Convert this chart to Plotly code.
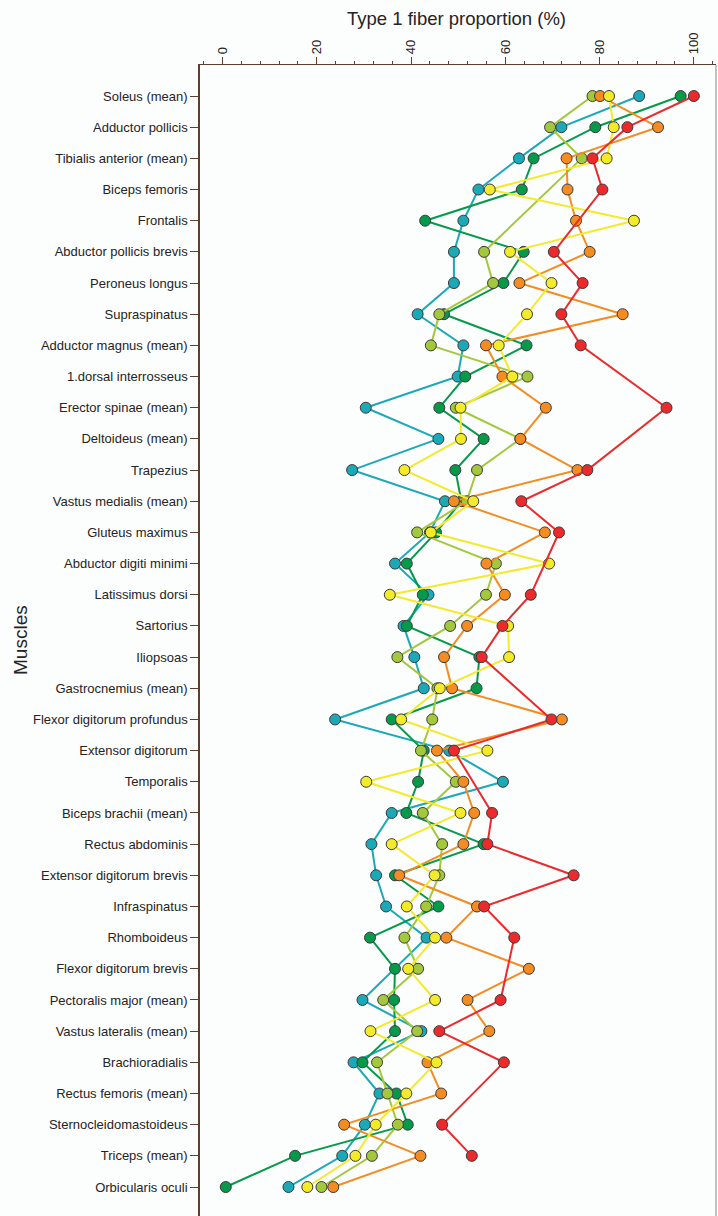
import plotly.graph_objects as go

# Muscles, top to bottom
muscles = [
    "Soleus (mean)", "Adductor pollicis", "Tibialis anterior (mean)", "Biceps femoris",
    "Frontalis", "Abductor pollicis brevis", "Peroneus longus", "Supraspinatus",
    "Adductor magnus (mean)", "1.dorsal interrosseus", "Erector spinae (mean)",
    "Deltoideus (mean)", "Trapezius", "Vastus medialis (mean)", "Gluteus maximus",
    "Abductor digiti minimi", "Latissimus dorsi", "Sartorius", "Iliopsoas",
    "Gastrocnemius (mean)", "Flexor digitorum profundus", "Extensor digitorum",
    "Temporalis", "Biceps brachii (mean)", "Rectus abdominis",
    "Extensor digitorum brevis", "Infraspinatus", "Rhomboideus",
    "Flexor digitorum brevis", "Pectoralis major (mean)", "Vastus lateralis (mean)",
    "Brachioradialis", "Rectus femoris (mean)", "Sternocleidomastoideus",
    "Triceps (mean)", "Orbicularis oculi",
]

# Type 1 fiber proportion (%) per data source; None = not reported
teal = [88.4, 71.9, 62.9, 54.3, 51.1, 49.1, 49.1, 41.4, 51.1, 49.9, 30.4, 45.8,
        27.5, 47.2, 44.0, 36.6, 43.7, 38.4, 40.7, 42.7, 23.9, 48.1, 59.5, 35.9,
        31.6, 32.6, 34.7, 43.3, None, 29.7, 42.2, 27.8, 33.3, 30.2, 25.4, 14.0]
green = [97.2, 79.1, 66.0, 63.5, 43.0, 63.9, 59.6, 47.0, 64.5, 51.5, 46.0, 55.4,
         49.4, 50.7, 45.3, 39.1, 42.5, 39.1, 54.5, 53.9, 35.9, 42.7, 41.5, 39.0,
         55.4, 36.6, 45.8, 31.3, 36.6, 36.4, 36.6, 29.7, 36.9, 39.3, 15.4, 0.7]
lightgreen = [78.5, 69.5, 76.2, None, None, 55.5, 57.4, 46.0, 44.2, 64.7, 49.5, 63.2,
              54.0, 51.8, 41.3, 58.0, 55.9, 48.3, 37.1, 45.6, 44.5, 42.1, 49.5, 42.5,
              46.6, 46.0, 43.2, 38.6, 41.5, 34.1, 41.3, 32.8, 35.0, 37.2, 31.7, 21.0]
orange = [80.1, 92.4, 73.0, 73.2, 75.0, 77.9, 63.0, 84.9, 55.9, 59.4, 68.6, 63.2,
          75.3, 49.1, 68.4, 56.0, 59.9, 51.9, 47.0, 48.7, 72.0, 45.5, 51.1, 53.4,
          51.1, 37.5, 54.0, 47.5, 65.0, 52.0, 56.6, 43.5, 46.4, 25.8, 42.0, 23.5]
yellow = [82.0, 83.0, 81.5, 56.7, 87.3, 61.0, 69.8, 64.6, 58.6, 61.5, 50.5, 50.6,
          38.6, 53.2, 44.2, 69.3, 35.5, 60.6, 60.8, 46.1, 37.9, 56.2, 30.5, 50.5,
          35.9, 45.0, 39.1, 45.1, 39.4, 45.1, 31.4, 45.4, 39.0, 32.5, 28.2, 18.0]
red = [100.0, 85.9, 78.5, 80.6, None, 70.3, 76.4, 71.9, 76.0, None, 94.2, None,
       77.4, 63.4, 71.4, None, 65.4, 59.4, 55.0, None, 69.8, 49.1, None, 57.2,
       56.2, 74.5, 55.5, 61.9, None, 59.0, 46.0, 59.7, None, 46.6, 52.9, None]

x_ticks = [0, 20, 40, 60, 80, 100]

series = [
    (teal, "#1ba9b8"),
    (green, "#05994a"),
    (lightgreen, "#a3c83c"),
    (orange, "#f48c22"),
    (yellow, "#f3ea2a"),
    (red, "#ec2a2c"),
]

fig = go.Figure()
for values, color in series:
    fig.add_trace(go.Scatter(
        x=values, y=muscles, mode="lines+markers", connectgaps=True,
        line=dict(color=color, width=2),
        marker=dict(size=11, color=color, line=dict(color="#3a3a3a", width=1)),
        showlegend=False, hoverinfo="x+y",
    ))

axis_color = "#5e3d33"
text_color = "#262324"

fig.update_layout(
    width=718, height=1216,
    margin=dict(l=200, r=2, t=65, b=0),
    paper_bgcolor="#fcfdfd", plot_bgcolor="#fcfdfd",
    font=dict(family="Liberation Sans, Arial, sans-serif", color=text_color),
    xaxis=dict(
        side="top", range=[-4.77, 104.7],
        tickmode="array", tickvals=x_ticks, ticktext=[str(v) for v in x_ticks],
        tickangle=-90, tickfont=dict(size=13, color=text_color),
        ticks="outside", ticklen=7, tickcolor=axis_color,
        minor=dict(dtick=4, tick0=0, ticks="outside", ticklen=3, tickcolor=axis_color),
        showline=True, linecolor=axis_color, linewidth=1.3,
        showgrid=False, zeroline=False,
    ),
    yaxis=dict(
        type="category", categoryorder="array", categoryarray=muscles,
        range=[35.93, -0.995],
        tickfont=dict(size=13, color=text_color),
        ticks="outside", ticklen=8, tickcolor=axis_color,
        showline=True, linecolor=axis_color, linewidth=1.5,
        showgrid=False, zeroline=False,
    ),
    annotations=[
        dict(text="Type 1 fiber proportion (%)", xref="paper", yref="paper",
             x=0.498, y=1.0408, xanchor="center", yanchor="middle",
             showarrow=False, font=dict(size=18.5, color=text_color)),
        dict(text="Muscles", xref="paper", yref="paper",
             x=-0.349, y=0.5004, xanchor="center", yanchor="middle",
             textangle=-90, showarrow=False, font=dict(size=19, color=text_color)),
    ],
    shapes=[
        dict(type="line", xref="paper", yref="paper", x0=1, x1=1, y0=0, y1=1,
             line=dict(color="#9a9a9a", width=1.2)),
    ],
)

fig.write_html("out.html")
